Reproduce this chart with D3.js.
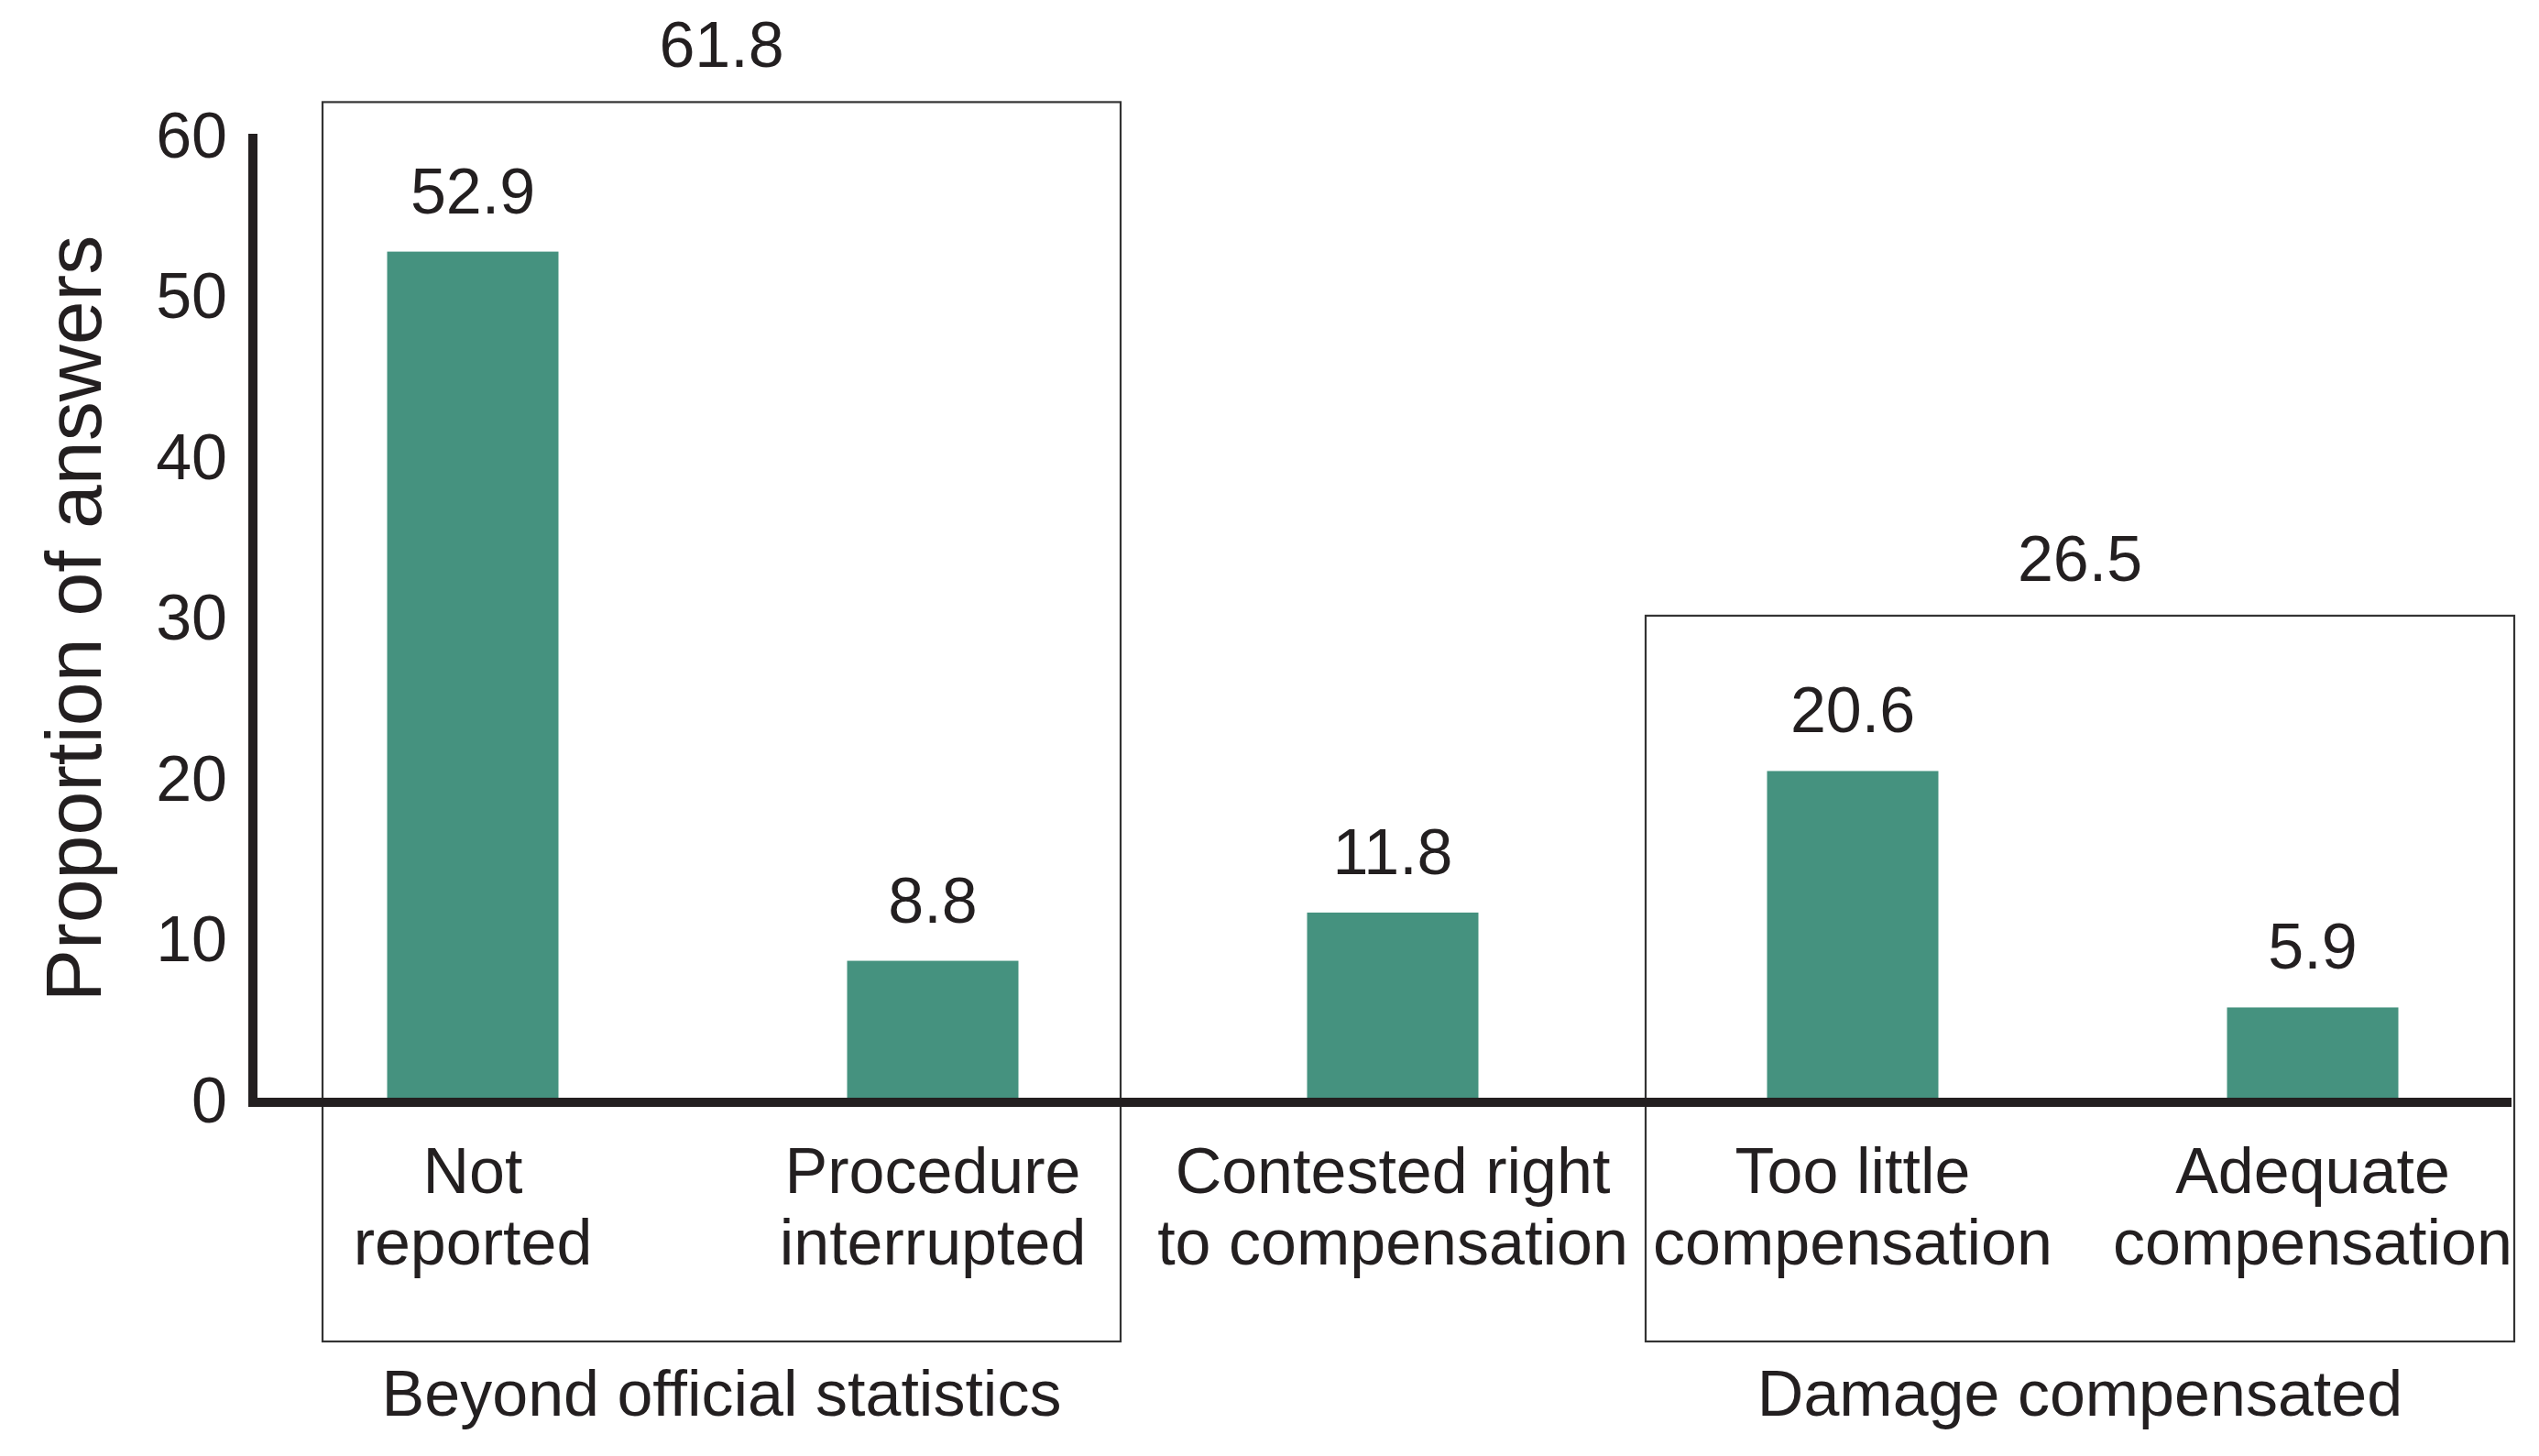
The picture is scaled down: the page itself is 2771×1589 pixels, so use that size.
<!DOCTYPE html>
<html>
<head>
<meta charset="utf-8">
<script src="https://cdn.jsdelivr.net/npm/d3@7"></script>
<style>
  html, body { margin: 0; padding: 0; background: #fff; }
  text { font-family: "Liberation Sans", Arial, sans-serif; fill: #231f20; }
</style>
</head>
<body>
<div id="chart"></div>
<script>
(function () {
  "use strict";

  // categories (two-line labels) and their values
  var categories = ["Not reported", "Procedure interrupted", "Contested right to compensation",
                    "Too little compensation", "Adequate compensation"];
  var labelLines = [["Not", "reported"], ["Procedure", "interrupted"], ["Contested right", "to compensation"],
                    ["Too little", "compensation"], ["Adequate", "compensation"]];
  var values = [52.9, 8.8, 11.8, 20.6, 5.9];
  var yTicks = [0, 10, 20, 30, 40, 50, 60];

  // group boxes
  var groupNames = ["Beyond official statistics", "Damage compensated"];
  var groupTotals = [61.8, 26.5];
  var groupFirst = [0, 3];
  var groupLast = [1, 4];

  var w = 2771,
    h = 1589,
    fs = "70px",
    barColor = "#45927f",
    ink = "#231f20",
    svg, x, y;

  function createSvg() {
    svg = d3.select("#chart")
      .append("svg")
      .attr("width", w)
      .attr("height", h);
  }

  function getScales() {
    x = d3.scaleBand()
      .domain(categories)
      .range([265, 2775])
      .paddingInner(0.6275)
      .paddingOuter(0.31375);
    y = d3.scaleLinear()
      .domain([0, 60])
      .range([1203, 150]);
  }

  function drawBoxes() {
    // distance from the first / last bar centre to the box side, px
    var padL = [164, 226],
      padR = [205, 220],
      // the boxes sit a little above their totals
      lift = [7, 66],
      boxBottom = 1464;

    function left(i) { return x(categories[groupFirst[i]]) + x.bandwidth() / 2 - padL[i]; }
    function right(i) { return x(categories[groupLast[i]]) + x.bandwidth() / 2 + padR[i]; }
    function top(i) { return y(groupTotals[i]) - lift[i]; }

    var g = svg.selectAll(".group")
      .data(groupNames)
      .enter().append("g")
      .attr("class", "group");

    g.append("rect")
      .attr("x", function(d, i) { return left(i); })
      .attr("y", function(d, i) { return top(i); })
      .attr("width", function(d, i) { return right(i) - left(i); })
      .attr("height", function(d, i) { return boxBottom - top(i); })
      .attr("fill", "none")
      .attr("stroke", "#333")
      .attr("stroke-width", 2.2);

    g.append("text")
      .attr("x", function(d, i) { return (left(i) + right(i)) / 2; })
      .attr("y", function(d, i) { return top(i) - 38; })
      .attr("text-anchor", "middle")
      .style("font-size", fs)
      .text(function(d, i) { return groupTotals[i].toFixed(1); });

    g.append("text")
      .attr("x", function(d, i) { return (left(i) + right(i)) / 2; })
      .attr("y", 1545)
      .attr("text-anchor", "middle")
      .style("font-size", fs)
      .text(function(d) { return d; });
  }

  function drawBars() {
    svg.selectAll(".bar")
      .data(values)
      .enter().append("rect")
      .attr("class", "bar")
      .attr("x", function(d, i) { return x(categories[i]); })
      .attr("y", function(d) { return y(d); })
      .attr("width", x.bandwidth())
      .attr("height", function(d) { return y(0) - y(d); })
      .attr("fill", barColor);

    svg.selectAll(".val")
      .data(values)
      .enter().append("text")
      .attr("class", "val")
      .attr("x", function(d, i) { return x(categories[i]) + x.bandwidth() / 2; })
      .attr("y", function(d) { return y(d) - 42; })
      .attr("text-anchor", "middle")
      .style("font-size", fs)
      .text(function(d) { return d.toFixed(1); });
  }

  function drawAxes() {
    var yAxis = d3.axisLeft(y)
      .tickValues(yTicks)
      .tickSize(0)
      .tickPadding(28);

    var ga = svg.append("g")
      .attr("transform", "translate(276,0)")
      .call(yAxis);
    ga.select(".domain").remove();
    ga.selectAll("text")
      .attr("dy", "0.3em")
      .style("font-size", fs)
      .style("font-family", "'Liberation Sans', Arial, sans-serif")
      .attr("fill", ink);

    // vertical axis line
    svg.append("line")
      .attr("x1", 276).attr("x2", 276)
      .attr("y1", y(60) - 4).attr("y2", y(0) + 5)
      .attr("stroke", ink)
      .attr("stroke-width", 10);

    // baseline
    svg.append("line")
      .attr("x1", 271).attr("x2", 2741)
      .attr("y1", y(0)).attr("y2", y(0))
      .attr("stroke", ink)
      .attr("stroke-width", 10);

    // category labels
    var lab = svg.selectAll(".cat")
      .data(labelLines)
      .enter().append("text")
      .attr("class", "cat")
      .attr("text-anchor", "middle")
      .style("font-size", fs);
    lab.selectAll("tspan")
      .data(function(d, i) { return d.map(function(t) { return { t: t, i: i }; }); })
      .enter().append("tspan")
      .attr("x", function(d) { return x(categories[d.i]) + x.bandwidth() / 2; })
      .attr("y", function(d, j) { return 1302 + j * 78; })
      .text(function(d) { return d.t; });

    // y title
    svg.append("text")
      .attr("transform", "translate(110,675) rotate(-90)")
      .attr("text-anchor", "middle")
      .style("font-size", "86px")
      .text("Proportion of answers");
  }

  function makeChart() {
    createSvg();
    getScales();
    drawBoxes();
    drawBars();
    drawAxes();
  }

  makeChart();
})();
</script>
</body>
</html>
